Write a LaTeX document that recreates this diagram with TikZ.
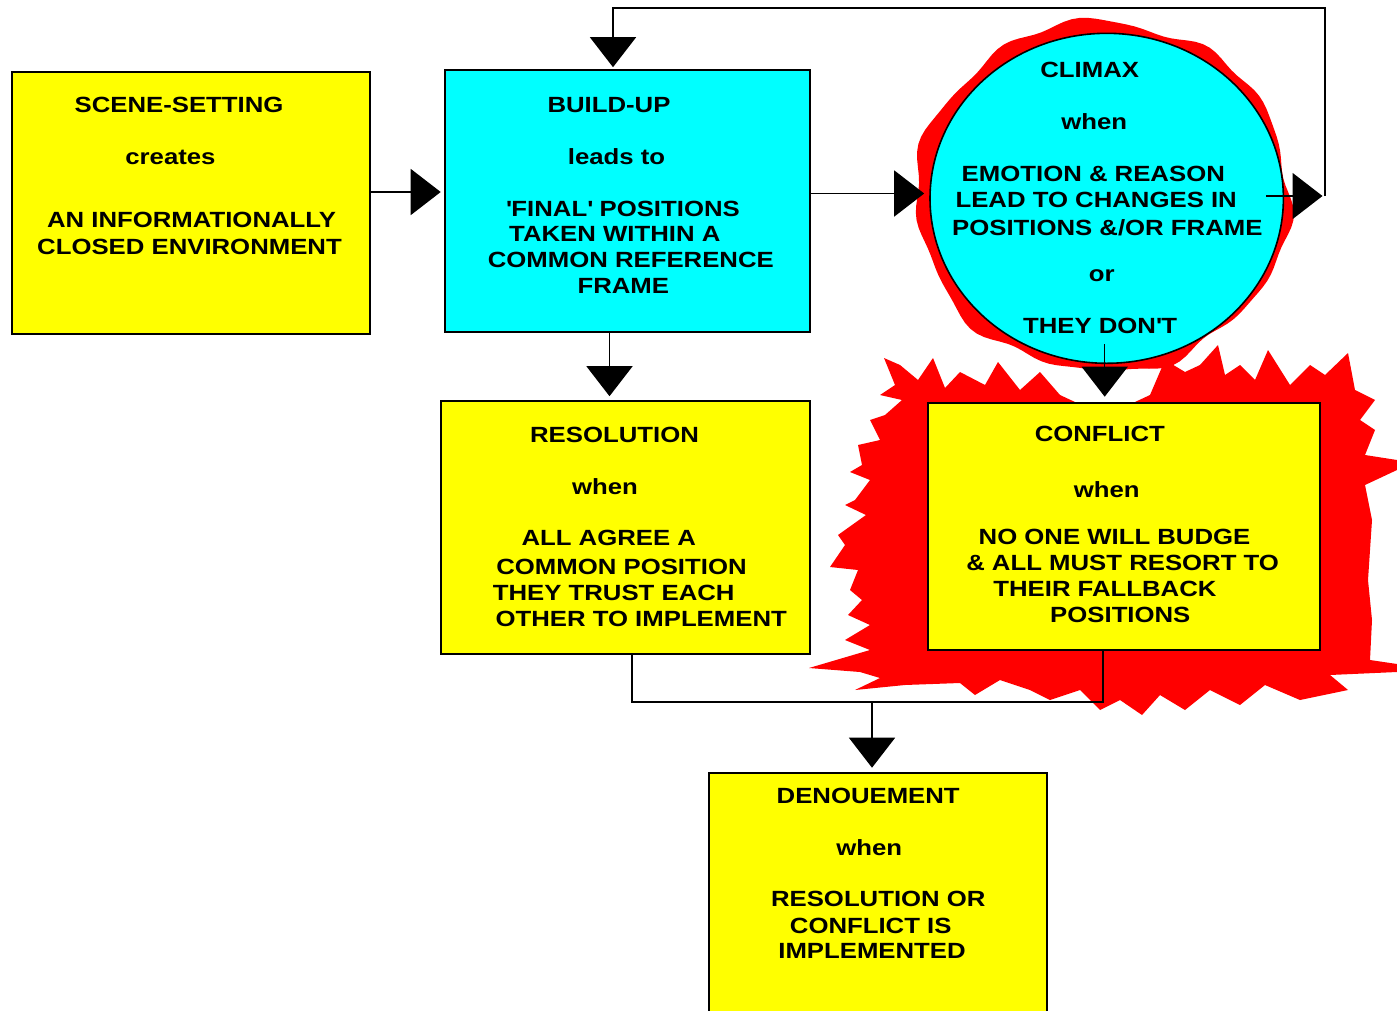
\documentclass[tikz,border=0pt]{standalone}
\usepackage{fontspec}
\usetikzlibrary{arrows.meta,shapes.geometric}
\newfontfamily\diafont[FakeStretch=1.17]{Liberation Sans}
\definecolor{boxyellow}{HTML}{FFFF00}
\definecolor{boxcyan}{HTML}{00FFFF}
\definecolor{burstred}{HTML}{FF0000}
\begin{document}
\begin{tikzpicture}[x=1pt,y=-1pt,
  box/.style={draw=black, line width=1.6pt, rectangle, inner sep=0pt},
  yelbox/.style={box, fill=boxyellow},
  cyanbox/.style={box, fill=boxcyan},
  txt/.style={anchor=base, inner sep=0pt, font=\diafont\bfseries\fontsize{22}{26}\selectfont},
  conn/.style={line width=1.5pt, draw=black},
  arr/.style={conn, -{Triangle[length=30pt,width=46pt]}},
]
\path[use as bounding box] (0,0) rectangle (1397,1010);
\clip (0,0) rectangle (1397,1010);
\fill[white] (0,0) rectangle (1397,1010);

% conflict starburst
\fill[burstred] (1060,395) -- (1040,372) -- (1020,390) -- (998,362) -- (985,385) -- (960,372) -- (945,388) -- (933,358) -- (918,380) -- (900,365) -- (884,358) -- (895,385) -- (880,395) -- (902,400) -- (885,415) -- (870,420) -- (880,440) -- (858,445) -- (862,465) -- (850,472) -- (870,480) -- (855,500) -- (845,505) -- (866,515) -- (838,535) -- (845,545) -- (830,567) -- (858,570) -- (850,590) -- (862,600) -- (848,615) -- (870,625) -- (845,640) -- (870,650) -- (809,668) -- (860,672) -- (880,678) -- (855,690) -- (905,685) -- (960,683) -- (975,695) -- (1000,680) -- (1030,690) -- (1050,700) -- (1080,690) -- (1100,710) -- (1120,700) -- (1142,715) -- (1160,695) -- (1185,710) -- (1210,690) -- (1240,705) -- (1265,685) -- (1300,700) -- (1348,690) -- (1330,675) -- (1397,672) -- (1397,664) -- (1370,660) -- (1372,620) -- (1368,580) -- (1372,520) -- (1365,485) -- (1397,470) -- (1397,460) -- (1365,455) -- (1375,430) -- (1360,420) -- (1375,400) -- (1355,390) -- (1348,353) -- (1325,375) -- (1310,365) -- (1290,385) -- (1268,350) -- (1255,380) -- (1240,365) -- (1225,375) -- (1218,345) -- (1200,365) -- (1185,372) -- (1165,360) -- (1150,395) -- (1135,402) -- (1075,402) -- cycle;

% climax red rim
\fill[burstred, variable=\t] plot[domain=0:358, samples=150]
  ({1106.7+(176.7+10-4*cos(\t)-2*sin(\t)+3*sin(6*\t)+2.5*sin(11*\t+30)+1.5*sin(17*\t))*cos(\t)},
   {198.3+(165+10-4*cos(\t)-2*sin(\t)+3*sin(6*\t)+2.5*sin(11*\t+30)+1.5*sin(17*\t))*sin(\t)}) -- cycle;

% boxes
\node[yelbox, minimum width=358pt, minimum height=262pt] (scene) at (191,203) {};
\node[cyanbox, minimum width=365pt, minimum height=262pt] (buildup) at (627.5,201) {};
\node[cyanbox, ellipse, minimum width=353.4pt, minimum height=330pt] (climax) at (1106.7,198.3) {};
\node[yelbox, minimum width=369pt, minimum height=253pt] (resolution) at (625.5,527.5) {};
\node[yelbox, minimum width=392pt, minimum height=247pt] (conflict) at (1124,526.5) {};
\node[yelbox, minimum width=338pt, minimum height=242pt] (denouement) at (878,894) {};

% texts
\node[txt] (s1) at (179,112.3) {SCENE-SETTING};
\node[txt] (s2) at (170.5,164) {creates};
\node[txt] (s3) at (191.5,227.3) {AN INFORMATIONALLY};
\node[txt] (s4) at (189.5,254) {CLOSED ENVIRONMENT};

\node[txt] (b1) at (609,112.3) {BUILD-UP};
\node[txt] (b2) at (616.5,164) {leads to};
\node[txt] (b3) at (623,216.7) {\textquotesingle FINAL\textquotesingle\ POSITIONS};
\node[txt] (b4) at (614.8,241.7) {TAKEN WITHIN A};
\node[txt] (b5) at (630.8,267.3) {COMMON REFERENCE};
\node[txt] (b6) at (623.3,293.3) {FRAME};

\node[txt] (c1) at (1089.7,77.7) {CLIMAX};
\node[txt] (c2) at (1094.3,129.3) {when};
\node[txt] (c3) at (1093.3,181.7) {EMOTION \& REASON};
\node[txt] (c4) at (1096.2,207.7) {LEAD TO CHANGES IN};
\node[txt] (c5) at (1107.3,235) {POSITIONS \&/OR FRAME};
\node[txt] (c6) at (1101.8,281.7) {or};
\node[txt] (c7) at (1100,333.3) {THEY DON\textquotesingle T};

\node[txt] (r1) at (614.5,442.3) {RESOLUTION};
\node[txt] (r2) at (605,494) {when};
\node[txt] (r3) at (608.8,545) {ALL AGREE A};
\node[txt] (r4) at (621.5,574) {COMMON POSITION};
\node[txt] (r5) at (613.7,600) {THEY TRUST EACH};
\node[txt] (r6) at (641.2,626.7) {OTHER TO IMPLEMENT};

\node[txt] (f1) at (1099.8,441) {CONFLICT};
\node[txt] (f2) at (1106.8,497.7) {when};
\node[txt] (f3) at (1114.5,544.3) {NO ONE WILL BUDGE};
\node[txt] (f4) at (1122.6,570.7) {\& ALL MUST RESORT TO};
\node[txt] (f5) at (1104.9,596) {THEIR FALLBACK};
\node[txt] (f6) at (1120.3,622.7) {POSITIONS};

\node[txt] (d1) at (868.2,803.3) {DENOUEMENT};
\node[txt] (d2) at (869.2,855) {when};
\node[txt] (d3) at (878.3,906.7) {RESOLUTION OR};
\node[txt] (d4) at (870.7,933.3) {CONFLICT IS};
\node[txt] (d5) at (872,958.3) {IMPLEMENTED};

% connectors
\coordinate (loopR) at (1325,196);
\coordinate (loopT) at (1325,8);
\coordinate (junc) at (872,702);

\draw[arr, shorten >=3.5pt] ([yshift=11pt]scene.east) -- ([yshift=9pt]buildup.west);
\draw[arr, shorten >=5pt] ([yshift=7.5pt]buildup.east) -- ([yshift=4.8pt]climax.west);
\draw[arr, shorten >=2.5pt] ([xshift=-18pt,yshift=2.3pt]climax.east) -- (loopR);
\draw[arr, shorten >=2pt] (loopR) -- (loopT) -| ([xshift=-14.5pt]buildup.north);
\draw[arr, shorten >=4pt] ([xshift=-18pt]buildup.south) -- ([xshift=-16pt]resolution.north);
\draw[arr, shorten >=5.5pt] ([xshift=-2pt,yshift=20pt]climax.south) -- ([xshift=-19.3pt]conflict.north);
\draw[conn] ([xshift=6.5pt]resolution.south) |- (junc) -| ([xshift=-21pt]conflict.south);
\draw[arr, shorten >=4.5pt] (junc) -- ([xshift=-6pt]denouement.north);
\end{tikzpicture}
\end{document}
